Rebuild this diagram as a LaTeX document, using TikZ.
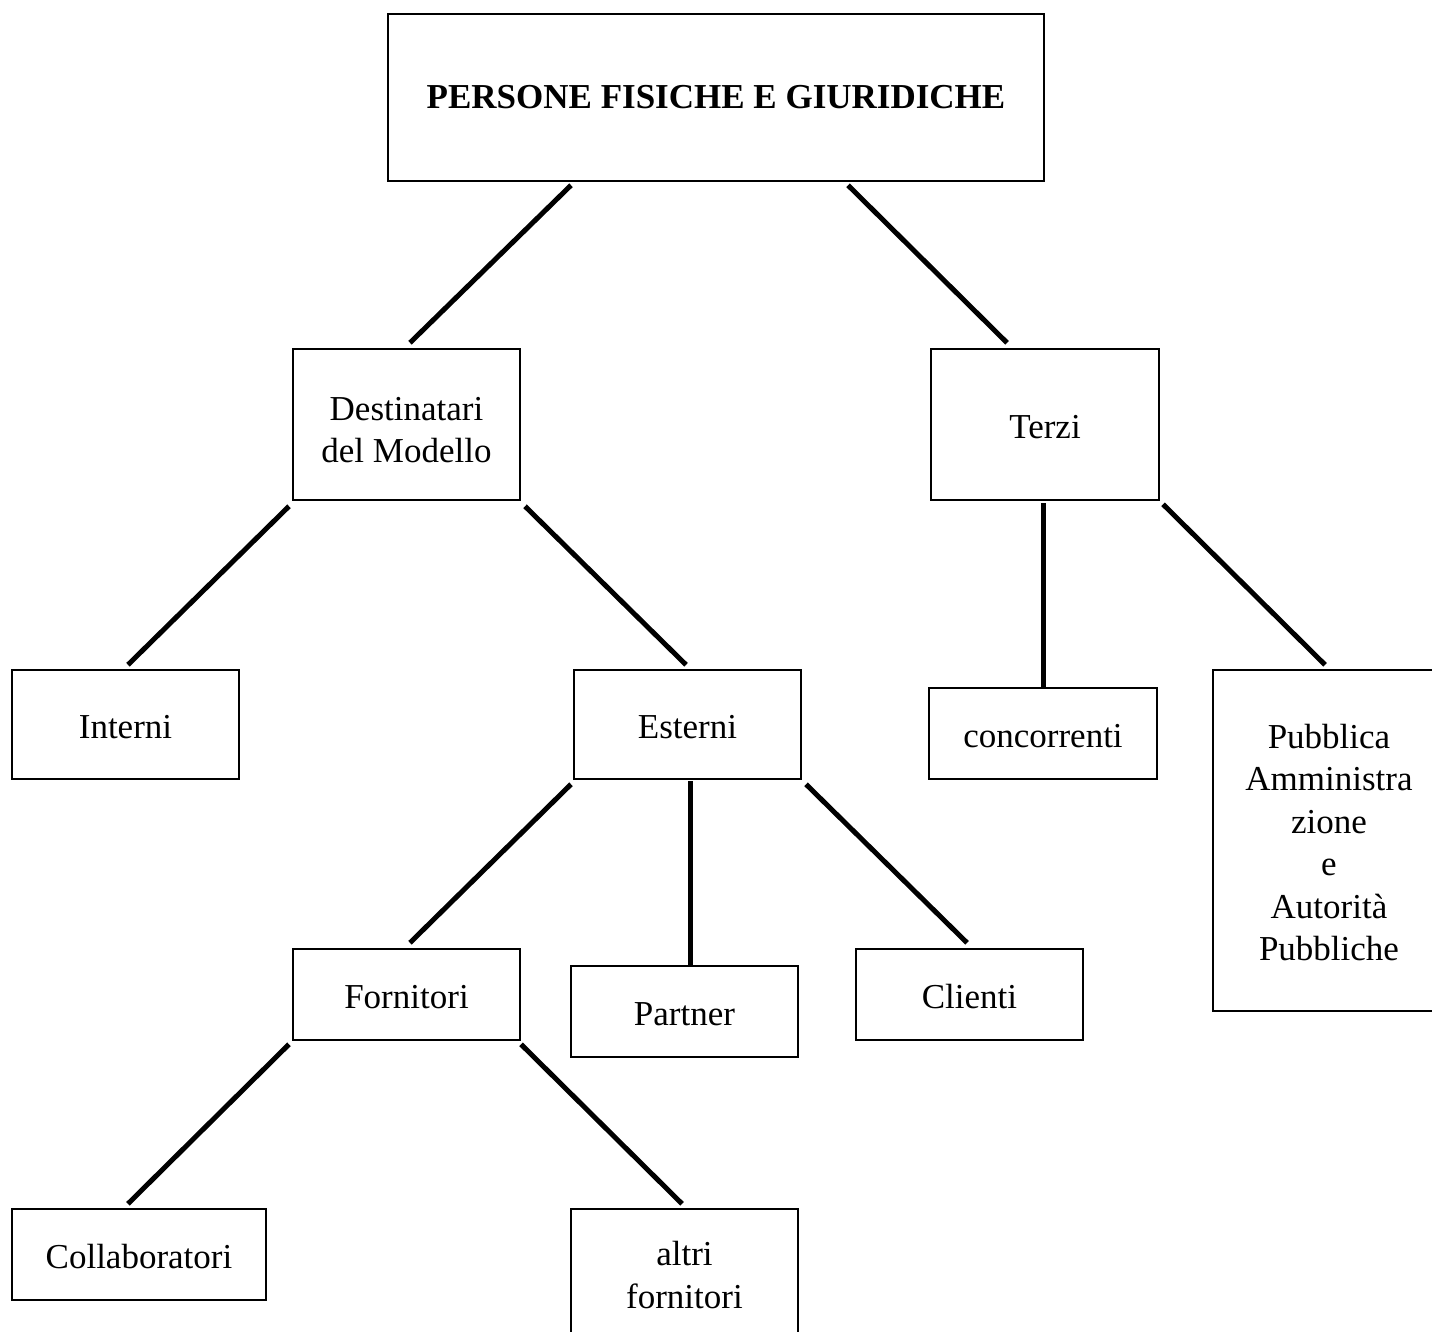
\documentclass[tikz,border=0pt]{standalone}
\usepackage{fontspec}
\setmainfont{Liberation Serif}
\usetikzlibrary{calc}
\begin{document}
\begin{tikzpicture}[x=1pt,y=-1pt,
  box/.style={draw,line width=2.5pt,inner sep=0pt,align=center,font=\fontsize{35}{42.5}\selectfont,
    execute at begin node={\rule{0pt}{29pt}}},
  titlebox/.style={draw,line width=2.5pt,inner sep=0pt,align=center,font=\fontsize{35}{42.5}\selectfont\bfseries},
  conn/.style={line width=5pt}]
\useasboundingbox (0,0) rectangle (1432,1331);
\node[titlebox,minimum width=656pt,minimum height=167pt] (top) at (716,97.5) {PERSONE FISICHE E GIURIDICHE};
\node[box,minimum width=227pt,minimum height=151pt] (dest) at (406.5,424.5) {\rule{0pt}{34pt}Destinatari\\del Modello};
\node[box,minimum width=228pt,minimum height=151pt] (terzi) at (1045,424.5) {Terzi};
\node[box,minimum width=227pt,minimum height=109pt] (interni) at (125.5,724.5) {Interni};
\node[box,minimum width=227pt,minimum height=109pt] (esterni) at (687.5,724.5) {Esterni};
\node[box,minimum width=228pt,minimum height=91pt] (conc) at (1043,733.5) {concorrenti};
\node[box,minimum width=232pt,minimum height=341pt] (pa) at (1329,840.5) {\rule{0pt}{28pt}Pubblica\\Amministra\\zione\\e\\Autorità\\Pubbliche};
\node[box,minimum width=227pt,minimum height=91pt] (forn) at (406.5,994.5) {Fornitori};
\node[box,minimum width=227pt,minimum height=91pt] (partner) at (684.5,1011.5) {Partner};
\node[box,minimum width=227pt,minimum height=91pt] (clienti) at (969.5,994.5) {Clienti};
\node[box,minimum width=254pt,minimum height=91pt] (collab) at (139,1254.5) {Collaboratori};
\node[box,minimum width=227pt,minimum height=132pt] (altri) at (684.5,1275) {altri\\fornitori};

\draw[conn] ($(top.south)+(-145,3)$) -- ($(dest.north)+(3.5,-5)$);
\draw[conn] ($(top.south)+(132,3)$) -- ($(terzi.north)+(-38,-5)$);
\draw[conn] ($(dest.south)+(-117.5,5)$) -- ($(interni.north)+(2.5,-4)$);
\draw[conn] ($(dest.south)+(118.5,5)$) -- ($(esterni.north)+(-1.5,-4)$);
\draw[conn] ($(terzi.south)+(-2,2)$) -- (conc.north);
\draw[conn] ($(terzi.south)+(118,3)$) -- ($(pa.north)+(-4,-4)$);
\draw[conn] ($(esterni.south)+(-116.5,4)$) -- ($(forn.north)+(3.5,-5)$);
\draw[conn] ($(esterni.south)+(2.5,1)$) -- ($(partner.north)+(5.5,0)$);
\draw[conn] ($(esterni.south)+(118.5,4)$) -- ($(clienti.north)+(-2.5,-5)$);
\draw[conn] ($(forn.south)+(-117.5,3)$) -- ($(collab.north)+(-11,-4)$);
\draw[conn] ($(forn.south)+(114.5,3)$) -- ($(altri.north)+(-2.5,-4)$);
\end{tikzpicture}
\end{document}
